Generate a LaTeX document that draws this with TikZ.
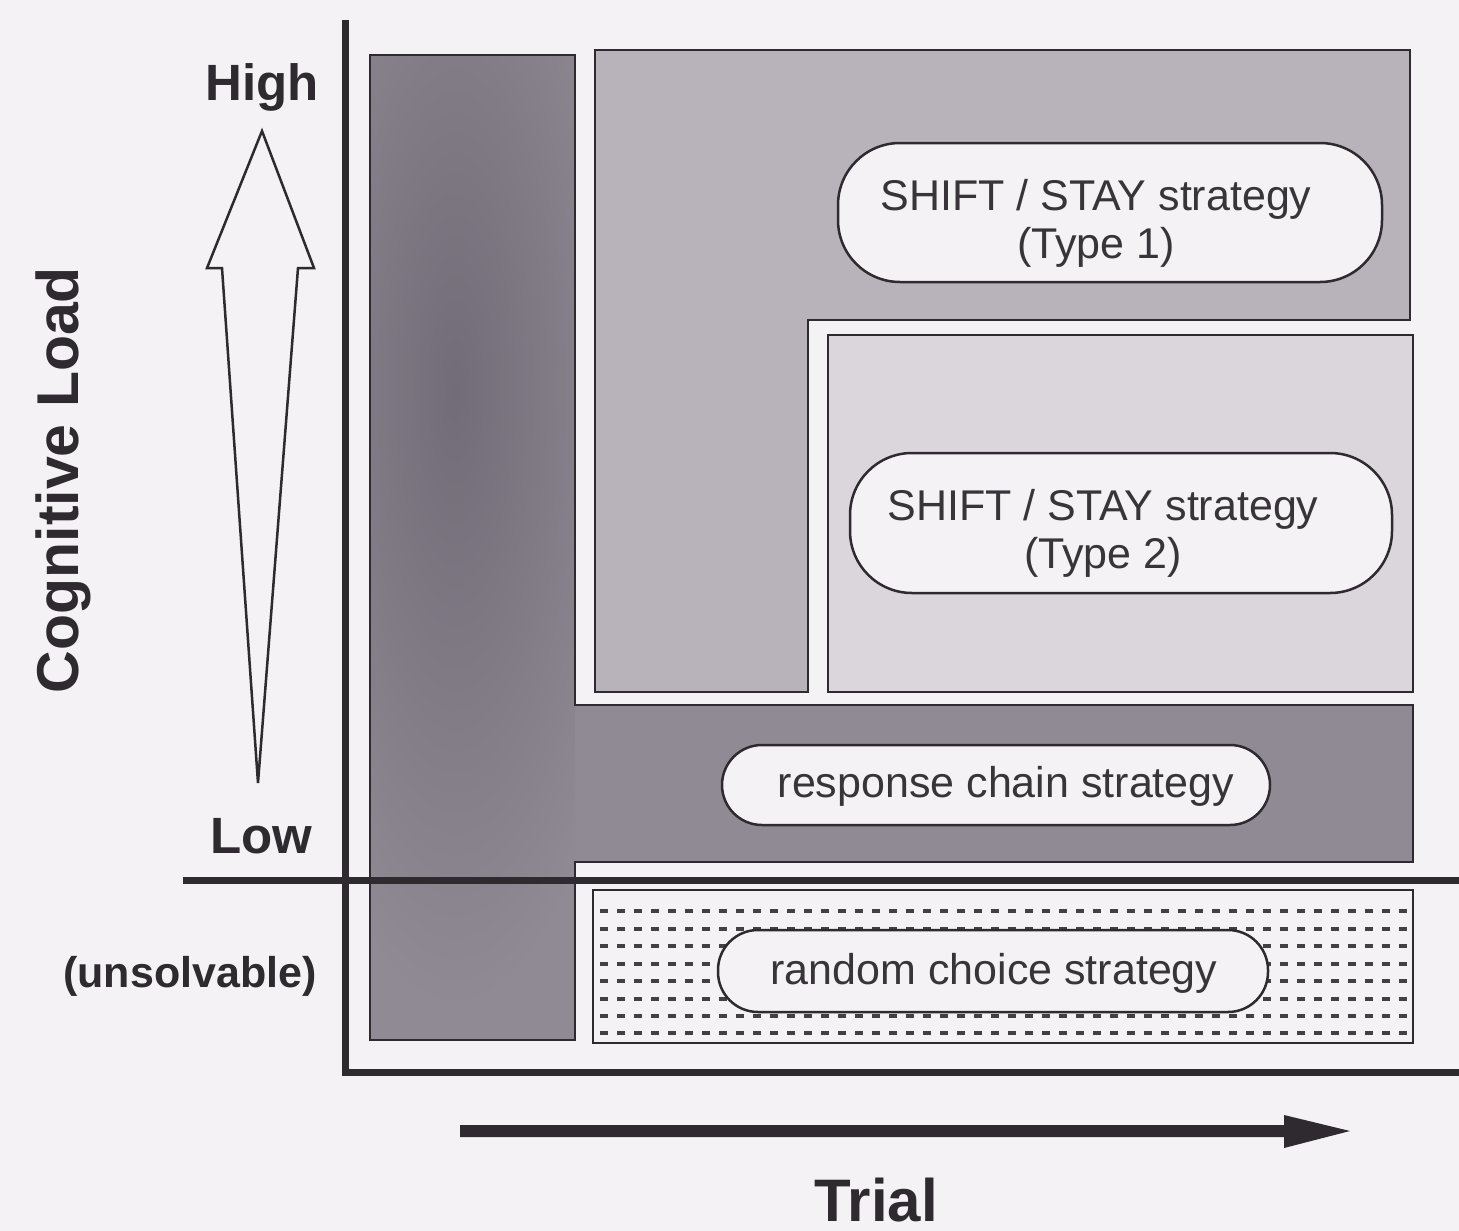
\documentclass[tikz,border=0pt]{standalone}
\usepackage{fontspec}
\setmainfont{Liberation Sans}
\definecolor{bgc}{HTML}{F4F2F4}
\definecolor{darkc}{HTML}{908A95}
\definecolor{darkband}{HTML}{726C78}
\definecolor{midc}{HTML}{B8B3BA}
\definecolor{lightc}{HTML}{DAD6DB}
\definecolor{pillc}{HTML}{F4F2F4}
\definecolor{linec}{HTML}{2E2A30}
\definecolor{txtc}{HTML}{38343A}
\begin{document}
\begin{tikzpicture}[x=1pt,y=-1pt,line join=miter]
\tikzset{
  boxline/.style={draw=linec, line width=2.5pt},
  axisline/.style={draw=linec, line width=7pt},
  pill/.style={draw=linec, line width=2.5pt, fill=pillc, rectangle, rounded corners=#1, inner sep=0pt},
  striptxt/.style={text=txtc, font=\fontsize{43}{48}\selectfont, align=center, inner sep=0pt, anchor=base},
  lbl/.style={text=linec, font=\bfseries\fontsize{51}{56}\selectfont, inner sep=0pt, anchor=base},
  dashrow/.style={draw=linec!90, line width=4pt, dash pattern=on 8pt off 9pt}
}
\useasboundingbox (0,0) rectangle (1459,1231);
\fill[bgc] (0,0) rectangle (1459,1231);

% dark L region (unsolvable column + response chain)
\fill[darkc] (370,55) -- (575,55) -- (575,705) -- (1413,705) -- (1413,862) -- (575,862) -- (575,1040) -- (370,1040) -- cycle;
\begin{scope}
  \clip (370,55) rectangle (575,1040);
  \shade[inner color=darkband, outer color=darkc] (455,390) ellipse [x radius=190, y radius=620];
\end{scope}
\draw[boxline] (370,55) -- (575,55) -- (575,705) -- (1413,705) -- (1413,862) -- (575,862) -- (575,1040) -- (370,1040) -- cycle;

% type 1 region
\filldraw[boxline, fill=midc] (595,50) -- (1410,50) -- (1410,320) -- (808,320) -- (808,692) -- (595,692) -- cycle;
% type 2 region
\filldraw[boxline, fill=lightc] (828,335) rectangle (1413,692);
% random region
\filldraw[boxline, fill=bgc] (593,890) rectangle (1413,1043);
\foreach \yy in {911,928.5,946,963.5,981,998.5,1016,1033}
  \draw[dashrow] (600,\yy) -- (1410,\yy);

% pills
\node[pill=62, minimum width=544pt, minimum height=139pt] (p1) at (1110,212.5) {};
\node[striptxt] (t1) at (1096,258) {SHIFT / STAY strategy\\(Type 1)};
\node[pill=62, minimum width=542pt, minimum height=140pt] (p2) at (1121,523) {};
\node[striptxt] (t2) at (1103,568) {SHIFT / STAY strategy\\(Type 2)};
\node[pill=40, minimum width=548pt, minimum height=80pt] (p3) at (996,785) {};
\node[striptxt] (t3) at (1006,797) {response chain strategy};
\node[pill=40, minimum width=550pt, minimum height=82pt] (p4) at (993,971) {};
\node[striptxt] (t4) at (994,984) {random choice strategy};

% axes
\coordinate (ytop) at (345,20);
\coordinate (orig) at (345,1072);
\coordinate (xend) at (1459,1072);
\coordinate (mleft) at (183,880);
\coordinate (mright) at (1459,880);
\draw[axisline] (ytop) -- (345,1075.5);
\draw[axisline] (341.5,1072) -- (xend);
\draw[axisline] (mleft) -- (mright);

% hollow cognitive-load arrow
\draw[draw=linec, line width=2.5pt, fill=bgc] (262,131) -- (314,268) -- (298,268) -- (258,783) -- (222,268) -- (207,268) -- cycle;

% trial arrow
\fill[linec] (460,1125) -- (1284,1125) -- (1284,1115) -- (1350,1131) -- (1284,1148) -- (1284,1137) -- (460,1137) -- cycle;

% labels
\node[lbl] (high) at (262,100) {High};
\node[lbl] (low) at (261,853) {Low};
\node[lbl, font=\bfseries\fontsize{43}{48}\selectfont] (uns) at (190,987) {(unsolvable)};
\node[lbl, font=\bfseries\fontsize{59}{64}\selectfont, rotate=90] (cog) at (78,480) {Cognitive Load};
\node[lbl, font=\bfseries\fontsize{60}{66}\selectfont] (trial) at (876,1221) {Trial};
\end{tikzpicture}
\end{document}
